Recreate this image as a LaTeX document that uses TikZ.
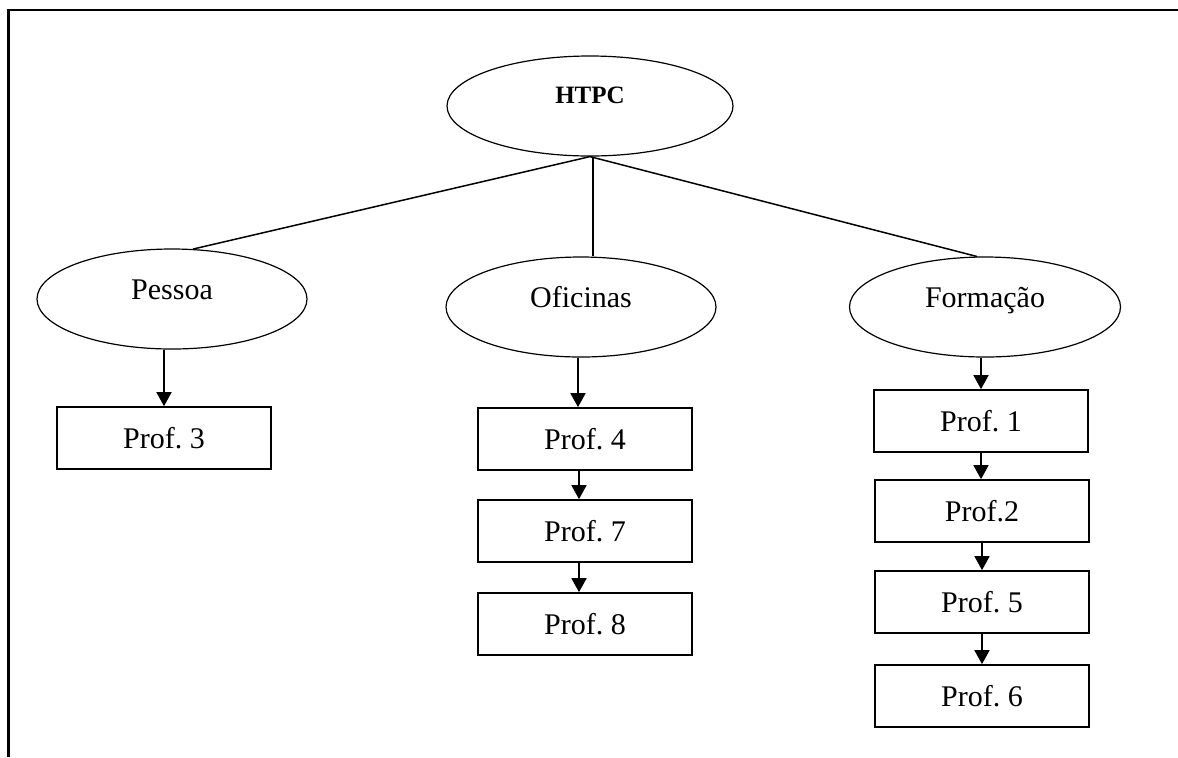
\documentclass[tikz,border=0pt]{standalone}
\usepackage{fontspec}
\setmainfont{Liberation Serif}
\usetikzlibrary{shapes.geometric,arrows.meta}
\frenchspacing
\begin{document}
\begin{tikzpicture}[x=0.5pt,y=-0.5pt,
  ovalnode/.style={draw,ellipse,line width=0.6pt,inner sep=0pt,minimum width=135pt,minimum height=50pt,font=\fontsize{15pt}{18pt}\selectfont},
  profbox/.style={draw,rectangle,line width=0.85pt,inner sep=0pt,minimum width=107pt,minimum height=31pt,font=\fontsize{15pt}{18pt}\selectfont},
  link/.style={line width=0.75pt},
  arr/.style={line width=0.85pt,-{Triangle[width=7.5pt,length=7pt]}}]
\useasboundingbox (0,0) rectangle (1178,757);
\draw[line width=1.2pt] (8.5,757) -- (8.5,10) -- (1178,10);
% top
\node[ovalnode,minimum width=143pt,minimum height=50pt] (htpc) at (590,106)
  {\raisebox{1.2pt}[0pt][0pt]{\fontsize{12.5pt}{15pt}\selectfont\bfseries HTPC}};
% level 2
\node[ovalnode] (pessoa) at (172,299) {\smash{Pessoa}};
\node[ovalnode] (ofi) at (581,307) {\smash{Oficinas}};
\node[ovalnode,minimum width=135.5pt] (form) at (985,307) {\smash{Formação}};
% boxes
\node[profbox] (p3) at (164,438) {Prof. 3};
\node[profbox] (p4) at (585,439) {Prof. 4};
\node[profbox] (p7) at (585,531) {Prof. 7};
\node[profbox] (p8) at (585,624) {Prof. 8};
\node[profbox] (p1) at (981,421) {Prof. 1};
\node[profbox] (p2) at (982,511) {Prof.2};
\node[profbox] (p5) at (982,602) {Prof. 5};
\node[profbox] (p6) at (982,696) {Prof. 6};
% links
\draw[link] (htpc.south) -- (pessoa.67);
\draw[link] ([xshift=1.5pt]htpc.south) -- ([xshift=1.5pt]htpc.south |- ofi.north);
\draw[link] (htpc.south) -- (form.99);
% arrows
\draw[arr] (p3.north |- pessoa.south) -- (p3.north);
\draw[arr] ([xshift=-1.5pt]ofi.south) -- ([xshift=-3.5pt]p4.north);
\draw[arr] ([xshift=-3pt]p4.south) -- ([xshift=-3pt]p7.north);
\draw[arr] ([xshift=-3pt]p7.south) -- ([xshift=-3pt]p8.north);
\draw[arr] (form.south -| p1.north) -- (p1.north);
\draw[arr] (p1.south) -- (p1.south |- p2.north);
\draw[arr] (p2.south) -- (p5.north);
\draw[arr] (p5.south) -- (p6.north);
\end{tikzpicture}
\end{document}
